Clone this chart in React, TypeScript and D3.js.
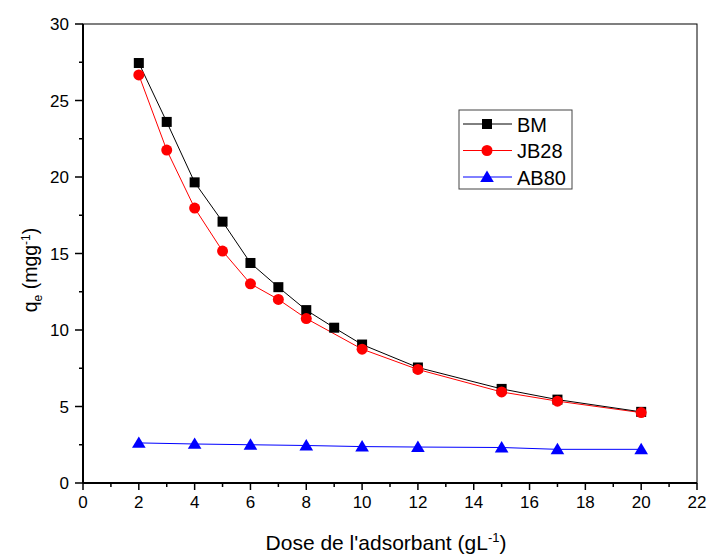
import React from "react";
import * as d3 from "d3";

const xBM = [2, 3, 4, 5, 6, 7, 8, 9, 10, 12, 15, 17, 20];
const yBM = [27.45, 23.6, 19.65, 17.08, 14.38, 12.8, 11.3, 10.15, 9.05, 7.55, 6.15, 5.45, 4.65];
const xJB = [2, 3, 4, 5, 6, 7, 8, 10, 12, 15, 17, 20];
const yJB = [26.67, 21.76, 17.97, 15.16, 13.02, 12.0, 10.75, 8.75, 7.42, 5.95, 5.35, 4.6];
const xAB = [2, 4, 6, 8, 10, 12, 15, 17, 20];
const yAB = [2.62, 2.55, 2.5, 2.45, 2.38, 2.35, 2.32, 2.2, 2.2];
const xTicks = [0, 2, 4, 6, 8, 10, 12, 14, 16, 18, 20, 22];
const yTicks = [0, 5, 10, 15, 20, 25, 30];
const seriesNames = ["BM", "JB28", "AB80"];

export default function App() {
  const L = 83, R = 697, T = 24, B = 483;
  const x = d3.scaleLinear().domain([0, 22]).range([L, R]);
  const y = d3.scaleLinear().domain([0, 30]).range([B, T]);
  const line = d3.line<[number, number]>().x(d => x(d[0])).y(d => y(d[1]));
  const font = "Liberation Sans, Arial, sans-serif";
  const bm = xBM.map((v, i) => [v, yBM[i]] as [number, number]);
  const jb = xJB.map((v, i) => [v, yJB[i]] as [number, number]);
  const ab = xAB.map((v, i) => [v, yAB[i]] as [number, number]);
  const tri = (cx: number, cy: number, s: number) =>
    `M${cx},${cy - s} L${cx + s * 1.05},${cy + s * 0.75} L${cx - s * 1.05},${cy + s * 0.75} Z`;
  const minorX = d3.range(1, 22, 2);
  const minorY = d3.range(2.5, 30, 5);
  const colors = ["#000", "#ff0000", "#0000ff"];
  return (
    <svg width={707} height={554} style={{ position: "absolute", left: 0, top: 0 }} fontFamily={font}>
      <rect x={0} y={0} width={707} height={554} fill="#fff" />
      {/* frame */}
      <rect x={L} y={T} width={R - L} height={B - T} fill="none" stroke="#000" strokeWidth={1} />
      <line x1={L} x2={L} y1={T} y2={B} stroke="#000" strokeWidth={2} />
      <line x1={L} x2={R} y1={B} y2={B} stroke="#000" strokeWidth={2} />
      {xTicks.map(t => (
        <g key={"xt" + t}>
          <line x1={x(t)} x2={x(t)} y1={B} y2={B + 7} stroke="#000" strokeWidth={1.5} />
          <text x={x(t)} y={B + 25} fontSize={17} textAnchor="middle">{t}</text>
        </g>
      ))}
      {minorX.map(t => (
        <line key={"mx" + t} x1={x(t)} x2={x(t)} y1={B} y2={B + 4} stroke="#000" strokeWidth={1.5} />
      ))}
      {yTicks.map(t => (
        <g key={"yt" + t}>
          <line x1={L - 8} x2={L} y1={y(t)} y2={y(t)} stroke="#000" strokeWidth={1.5} />
          <text x={L - 14} y={y(t) + 6} fontSize={17} textAnchor="end">{t}</text>
        </g>
      ))}
      {minorY.map(t => (
        <line key={"my" + t} x1={L - 4} x2={L} y1={y(t)} y2={y(t)} stroke="#000" strokeWidth={1.5} />
      ))}
      {/* series */}
      <path d={line(ab) || ""} fill="none" stroke={colors[2]} strokeWidth={1} />
      <path d={line(jb) || ""} fill="none" stroke={colors[1]} strokeWidth={1} />
      <path d={line(bm) || ""} fill="none" stroke={colors[0]} strokeWidth={1} />
      {bm.map((d, i) => (
        <rect key={"b" + i} x={x(d[0]) - 5} y={y(d[1]) - 5} width={10} height={10} fill={colors[0]} />
      ))}
      {jb.map((d, i) => (
        <circle key={"j" + i} cx={x(d[0])} cy={y(d[1])} r={5.5} fill={colors[1]} />
      ))}
      {ab.map((d, i) => (
        <path key={"a" + i} d={tri(x(d[0]), y(d[1]), 6.5)} fill={colors[2]} />
      ))}
      {/* legend */}
      <rect x={459} y={110} width={113} height={79} fill="#fff" stroke="#444" strokeWidth={1} />
      {seriesNames.map((n, i) => {
        const cy = 124 + i * 26.5;
        return (
          <g key={n}>
            <line x1={463} x2={512} y1={cy} y2={cy} stroke={colors[i]} strokeWidth={1} />
            {i === 0 && <rect x={482} y={cy - 5} width={10} height={10} fill={colors[0]} />}
            {i === 1 && <circle cx={487} cy={cy} r={5.5} fill={colors[1]} />}
            {i === 2 && <path d={tri(487, cy, 6.5)} fill={colors[2]} />}
            <text x={517} y={cy + 7.5} fontSize={20}>{n}</text>
          </g>
        );
      })}
      {/* axis titles */}
      <text x={386} y={550} fontSize={21} textAnchor="middle">
        Dose de l'adsorbant (gL<tspan dy={-8} fontSize={13}>-1</tspan><tspan dy={8}>)</tspan>
      </text>
      <text transform="translate(37,270) rotate(-90)" fontSize={19.5} textAnchor="middle">
        q<tspan dy={5} fontSize={12}>e</tspan><tspan dy={-5}> (mgg</tspan><tspan dy={-7} fontSize={12}>-1</tspan><tspan dy={7}>)</tspan>
      </text>
    </svg>
  );
}
